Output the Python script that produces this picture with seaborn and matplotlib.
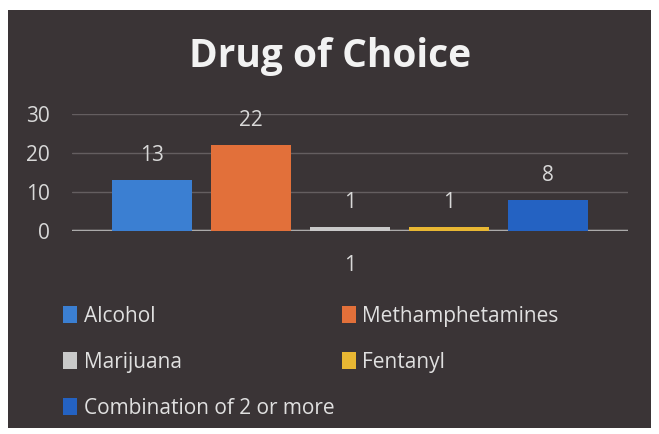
import matplotlib
matplotlib.use("Agg")
import matplotlib.pyplot as plt
from matplotlib.patches import Rectangle
import pandas as pd
import seaborn as sns

# data
drugs = ["Alcohol", "Methamphetamines", "Marijuana", "Fentanyl", "Combination of 2 or more"]
counts = [13, 22, 1, 1, 8]
group = ["1"] * len(drugs)
colors = ["#3b7fd2", "#e2703a", "#c9c9c9", "#e8b733", "#2462c2"]
yticks = [0, 10, 20, 30]

df = pd.DataFrame({"group": group, "drug": drugs, "count": counts})

sns.set_style("dark")
plt.rcParams["font.family"] = ["Open Sans", "DejaVu Sans"]

bg = "#3a3436"
txt = "#d8d8d8"

fig = plt.figure(figsize=(6.59, 4.34), dpi=100, facecolor="white")
fig.patches.append(Rectangle((8 / 659, 6 / 434), 643 / 659, 418 / 434,
                             transform=fig.transFigure, facecolor=bg,
                             edgecolor="none", zorder=-10))

ax = fig.add_axes([72 / 659, 1 - 231 / 434, 556 / 659, 117 / 434])
ax.set_facecolor("none")

sns.barplot(data=df, x="group", y="count", hue="drug", palette=colors,
            width=0.89, gap=0.19, ax=ax, saturation=1, linewidth=0)

for c in ax.containers:
    ax.bar_label(c, padding=10, color=txt, fontsize=15)

ax.set_ylim(0, 30)
ax.set_yticks(yticks)
ax.yaxis.grid(True, color="#645e60", lw=1)
ax.xaxis.grid(False)
ax.set_axisbelow(True)
ax.axhline(0, color="#bdbdbd", lw=2.5, zorder=0.5)
for s in ax.spines.values():
    s.set_visible(False)
ax.tick_params(axis="y", length=0, pad=16, labelsize=15, labelcolor=txt)
ax.tick_params(axis="x", length=0, pad=17, labelsize=15, labelcolor=txt)
ax.set_xlabel("")
ax.set_ylabel("")

fig.text(330 / 659, 1 - 56 / 434, "Drug of Choice", ha="center", va="center",
         fontsize=28, fontweight="bold", color="#f2f2f2")

handles, labels = ax.get_legend_handles_labels()
ax.legend_.remove()
order = [0, 2, 4, 1, 3]
fig.legend([handles[i] for i in order], [labels[i] for i in order], ncol=2,
           loc="upper left", bbox_to_anchor=(44 / 659, 1 - 287 / 434),
           frameon=False, fontsize=15, labelcolor="#e0e0e0",
           handlelength=0.7, handleheight=0.85, handletextpad=0.3,
           labelspacing=1.2, columnspacing=0.35)

fig.savefig("out.png", dpi=100, facecolor="white")
